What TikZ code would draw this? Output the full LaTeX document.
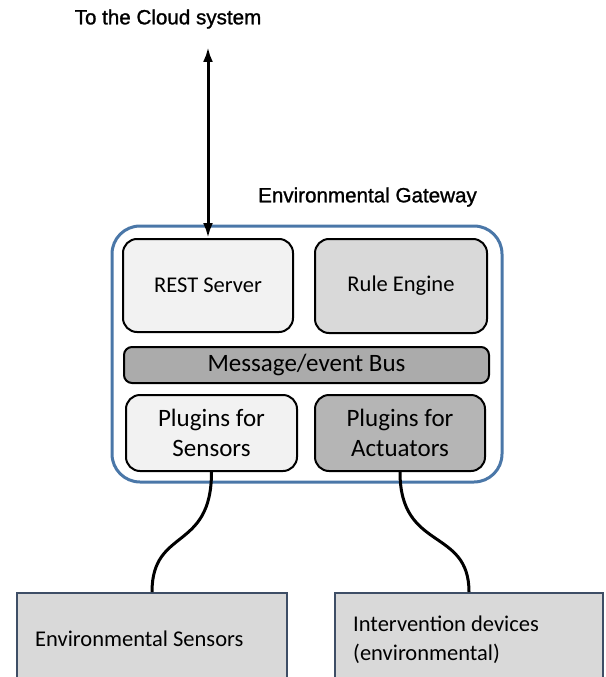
\documentclass[tikz,border=0pt]{standalone}
\usepackage{fontspec}
\setmainfont{Carlito}
\newfontfamily\arialf[FakeBold=1.2]{Liberation Sans}
\usetikzlibrary{arrows.meta}
\definecolor{gwblue}{HTML}{4A77A8}
\definecolor{lightfill}{HTML}{F2F2F2}
\definecolor{midfill}{HTML}{D9D9D9}
\definecolor{busfill}{HTML}{ABABAB}
\definecolor{actfill}{HTML}{B5B5B5}
\definecolor{devborder}{HTML}{3E4E66}
\tikzset{
  gwbox/.style={draw=gwblue, line width=3pt, rounded corners=28pt, inner sep=0pt},
  inbox/.style={draw=black, line width=2pt, rounded corners=14pt, inner sep=0pt, align=center,
     font=\fontsize{22.5}{27}\selectfont},
  plugbox/.style={inbox, font=\fontsize{25}{30}\selectfont},
  devbox/.style={draw=devborder, fill=midfill, line width=2pt, inner sep=0pt},
  devtext/.style={inner sep=0pt, align=left, font=\fontsize{22.5}{29}\selectfont},
  titletext/.style={inner sep=0pt, font=\arialf\fontsize{20.6}{24}\selectfont},
  wire/.style={draw=black, line width=3pt},
  dbl/.style={draw=black, line width=3pt, {Latex[length=15pt,width=10pt]}-{Latex[length=15pt,width=10pt]}}
}
\begin{document}
\begin{tikzpicture}[x=1pt,y=-1pt]
\useasboundingbox (0,0) rectangle (605,677);
\clip (0,0) rectangle (605,677);
\fill[white] (0,0) rectangle (605,677);

\node[titletext] (cloudtxt) at (168,19) {To the Cloud system};
\node[titletext] (gwtxt) at (367.5,197) {Environmental Gateway};

\node[gwbox, minimum width=390pt, minimum height=256pt] (gw) at (307,354) {};

\node[inbox, fill=lightfill, minimum width=170pt, minimum height=93pt] (rest) at (208,285.5) {REST Server};
\node[inbox, fill=midfill, minimum width=172pt, minimum height=94pt] (rule) at (401,286) {Rule Engine};
\node[plugbox, fill=busfill, rounded corners=8pt, minimum width=365pt, minimum height=36pt] (bus) at (306.5,365) {Message/event Bus};
\node[plugbox, fill=lightfill, minimum width=171pt, minimum height=76pt] (ps) at (211.5,433) {Plugins for\\Sensors};
\node[plugbox, fill=actfill, minimum width=170pt, minimum height=76pt] (pa) at (400,433) {Plugins for\\Actuators};

\node[devbox, minimum width=270pt, minimum height=110pt] (es) at (152,648) {};
\node[devbox, minimum width=268pt, minimum height=110pt] (ia) at (469,648) {};
\node[devtext, anchor=west] (estxt) at (35,639) {Environmental Sensors};
\node[devtext, anchor=west] (iatxt) at (353,639.5) {Intervention devices\\(environmental)};

\coordinate (cloudend) at (208,47);
\draw[dbl] (cloudend) -- (rest.north);

\draw[wire] (ps.south) .. controls +(0,80) and +(0,-65) .. (es.north);
\draw[wire] (pa.south) .. controls +(0,80) and +(0,-65) .. (ia.north);
\end{tikzpicture}
\end{document}
